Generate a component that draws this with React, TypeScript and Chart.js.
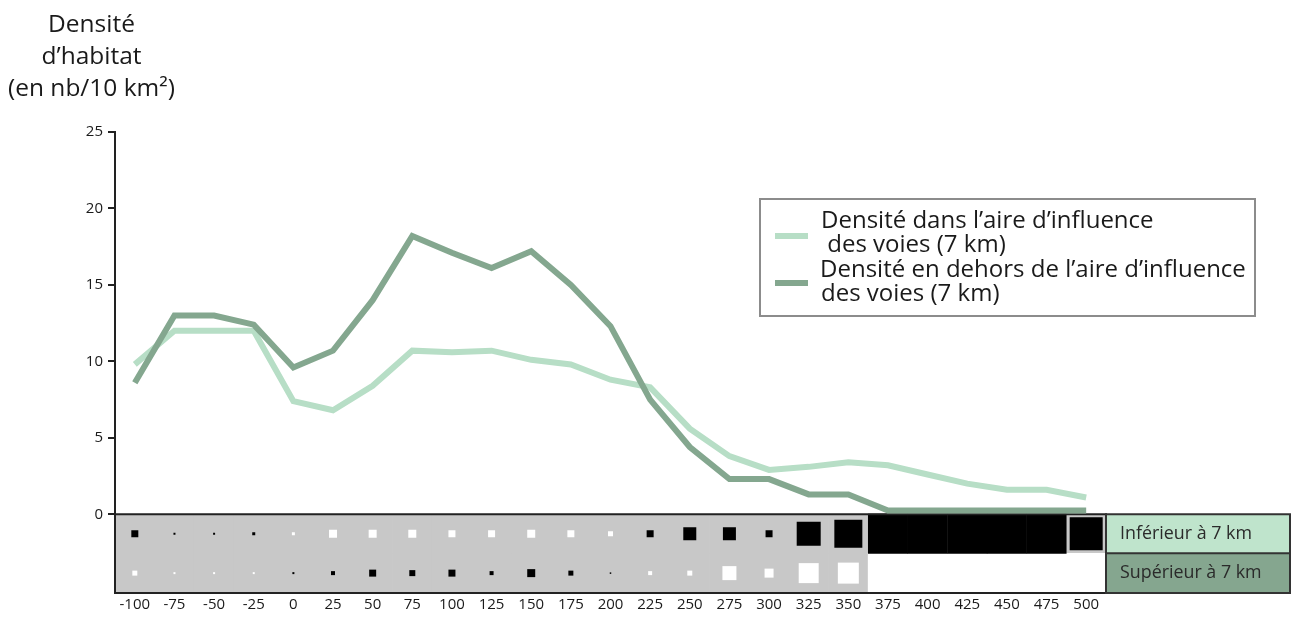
import React, { useEffect, useRef } from "react";
import { Chart, registerables } from "chart.js";

Chart.register(...registerables);

// ---------- data ----------
const distances = ["-100", "-75", "-50", "-25", "0", "25", "50", "75", "100", "125", "150", "175", "200", "225", "250", "275", "300", "325", "350", "375", "400", "425", "450", "475", "500"];

// Densité dans l'aire d'influence des voies (7 km)
const densityInside = [9.8, 12, 12, 12, 7.4, 6.8, 8.4, 10.7, 10.6, 10.7, 10.1, 9.8, 8.8, 8.3, 5.6, 3.8, 2.9, 3.1, 3.4, 3.2, 2.6, 2.0, 1.6, 1.6, 1.1];

// Densité en dehors de l'aire d'influence des voies (7 km)
const densityOutside = [8.6, 13, 13, 12.4, 9.6, 10.7, 14, 18.2, 17.1, 16.1, 17.2, 15.0, 12.3, 7.5, 4.4, 2.3, 2.3, 1.3, 1.3, 0.25, 0.25, 0.25, 0.25, 0.25, 0.25];

// Square markers: magnitude = square side, sign: + black, - white, null = no data
const markerInside = [7, 2, 2, 3, -3, -8, -8, -8, -7, -7, -8, -7, -5, 7, 13, 13, 7, 24, 28, 40, 40, 40, 40, 40, 33];
const markerOutside = [-5, -2, -2, -2, 2, 4, 7, 6, 7, 4, 8, 5, 1.5, -4, -5, -14, -9, -20, -21, null, null, null, null, null, null];

const yTicks = [0, 5, 10, 15, 20, 25];

const titleLines = ["Densité", "d’habitat", "(en nb/10 km²)"];
const legendInsideLines = ["Densité dans l’aire d’influence", " des voies (7 km)"];
const legendOutsideLines = ["Densité en dehors de l’aire d’influence", "des voies (7 km)"];
const rowLabels = ["Inférieur à 7 km", "Supérieur à 7 km"];

// ---------- styling constants ----------
const FONT = "'Open Sans', 'Noto Sans', sans-serif";
const LIGHT = "#b7dec6";
const DARK = "#84a78f";
const ROW_LIGHT = "#bfe4cc";
const ROW_DARK = "#85a68f";
const STRIP_GRAY = "#c8c8c8";
const AXIS = "#222";
const Y_MAX = 25;
const STRIP_MIN = -5.15;
const ROW_SPLIT = -2.55;
const ROW_INF_Y = ROW_SPLIT / 2;
const ROW_SUP_Y = (ROW_SPLIT + STRIP_MIN) / 2;

function fitSize(ctx: CanvasRenderingContext2D, text: string, width: number) {
  ctx.font = `100px ${FONT}`;
  const w = ctx.measureText(text).width;
  return (100 * width) / w;
}

const decorPlugin = {
  id: "decor",
  afterDatasetDraw(chart: any, args: any) {
    // strip border drawn right after the strip datasets (before the lines)
    if (args.index !== 3) return;
    const { ctx, chartArea, scales } = chart;
    const y0 = scales.y.getPixelForValue(0);
    ctx.save();
    ctx.strokeStyle = AXIS;
    ctx.lineWidth = 2;
    ctx.strokeRect(chartArea.left, y0, chartArea.right - chartArea.left, chartArea.bottom - y0);
    ctx.restore();
  },
  afterDraw(chart: any) {
    const { ctx, chartArea, scales, width } = chart;
    const y0 = scales.y.getPixelForValue(0);
    const ySplit = scales.y.getPixelForValue(ROW_SPLIT);
    const yBot = chartArea.bottom;
    ctx.save();

    // right-hand table
    const x0 = chartArea.right;
    const x1 = width - 1;
    ctx.fillStyle = ROW_LIGHT;
    ctx.fillRect(x0, y0, x1 - x0, ySplit - y0);
    ctx.fillStyle = ROW_DARK;
    ctx.fillRect(x0, ySplit, x1 - x0, yBot - ySplit);
    ctx.strokeStyle = "#333";
    ctx.lineWidth = 2;
    ctx.strokeRect(x0, y0, x1 - x0, yBot - y0);
    ctx.beginPath();
    ctx.moveTo(x0, ySplit);
    ctx.lineTo(x1, ySplit);
    ctx.stroke();
    const tSize = fitSize(ctx, rowLabels[0], 132);
    ctx.font = `${tSize}px ${FONT}`;
    ctx.fillStyle = "#2a2a2a";
    ctx.textBaseline = "middle";
    ctx.textAlign = "left";
    ctx.fillText(rowLabels[0], x0 + 14, (y0 + ySplit) / 2);
    ctx.fillText(rowLabels[1], x0 + 14, (ySplit + yBot) / 2);

    // title
    const titleSize = fitSize(ctx, titleLines[2], 167);
    ctx.font = `${titleSize}px ${FONT}`;
    ctx.textAlign = "center";
    ctx.fillStyle = "#1a1a1a";
    titleLines.forEach((t, i) => ctx.fillText(t, 91.5, 25 + i * 32));

    // legend
    const bx = 760, by = 199, bw = 495, bh = 117;
    ctx.strokeStyle = "#8c8c8c";
    ctx.lineWidth = 2;
    ctx.strokeRect(bx, by, bw, bh);
    ctx.fillStyle = LIGHT;
    ctx.fillRect(775, 233, 33, 6);
    ctx.fillStyle = DARK;
    ctx.fillRect(775, 280, 33, 6);
    const lSize = fitSize(ctx, legendOutsideLines[0], 426);
    ctx.font = `${lSize}px ${FONT}`;
    ctx.fillStyle = "#1a1a1a";
    ctx.textAlign = "left";
    ctx.fillText(legendInsideLines[0], 821, 221);
    ctx.fillText(legendInsideLines[1], 821, 245);
    ctx.fillText(legendOutsideLines[0], 820, 270);
    ctx.fillText(legendOutsideLines[1], 821, 294);
    ctx.restore();
  },
};

export default function App() {
  const canvasRef = useRef<HTMLCanvasElement | null>(null);

  useEffect(() => {
    if (!canvasRef.current) return;
    const markerRadius = (arr: (number | null)[]) => (c: any) => {
      const v = arr[c.dataIndex];
      return v == null ? 0 : Math.abs(v) / Math.SQRT2;
    };
    const markerColor = (arr: (number | null)[]) => (c: any) => {
      const v = arr[c.dataIndex];
      return v != null && v > 0 ? "#000" : "#fff";
    };

    const chart = new Chart(canvasRef.current, {
      type: "bar",
      data: {
        labels: distances,
        datasets: [
          {
            type: "bar",
            label: "fond inférieur",
            data: distances.map(() => [ROW_SPLIT, 0]) as any,
            backgroundColor: STRIP_GRAY,
            borderWidth: 0,
            barPercentage: 1,
            categoryPercentage: 1,
            grouped: false,
            order: 10,
          } as any,
          {
            type: "bar",
            label: "fond supérieur",
            data: distances.map(() => [STRIP_MIN, ROW_SPLIT]) as any,
            backgroundColor: (c: any) => (markerOutside[c.dataIndex] == null ? "#fff" : STRIP_GRAY),
            borderWidth: 0,
            barPercentage: 1,
            categoryPercentage: 1,
            grouped: false,
            order: 9,
          } as any,
          {
            type: "line",
            label: "Inférieur à 7 km",
            data: markerInside.map((v) => (v == null ? null : ROW_INF_Y)),
            showLine: false,
            pointStyle: "rect",
            pointRadius: markerRadius(markerInside),
            pointBackgroundColor: markerColor(markerInside),
            pointBorderWidth: 0,
            order: 6,
          } as any,
          {
            type: "line",
            label: "Supérieur à 7 km",
            data: markerOutside.map((v) => (v == null ? null : ROW_SUP_Y)),
            showLine: false,
            pointStyle: "rect",
            pointRadius: markerRadius(markerOutside),
            pointBackgroundColor: markerColor(markerOutside),
            pointBorderWidth: 0,
            order: 5,
          } as any,
          {
            type: "line",
            label: "Densité dans l’aire d’influence des voies (7 km)",
            data: densityInside,
            borderColor: LIGHT,
            borderWidth: 6,
            pointRadius: 0,
            tension: 0,
            fill: false,
            order: 1,
          } as any,
          {
            type: "line",
            label: "Densité en dehors de l’aire d’influence des voies (7 km)",
            data: densityOutside,
            borderColor: DARK,
            borderWidth: 6,
            pointRadius: 0,
            tension: 0,
            fill: false,
            order: 0,
          } as any,
        ],
      },
      options: {
        responsive: false,
        animation: false,
        devicePixelRatio: 1,
        layout: { padding: { top: 132, right: 185, bottom: 0, left: 0 } },
        plugins: {
          legend: { display: false },
          title: { display: false },
          tooltip: { enabled: false },
        },
        scales: {
          x: {
            type: "category",
            offset: true,
            grid: { display: false, drawTicks: false },
            border: { display: false },
            afterFit: (s: any) => {
              s.height = 28;
            },
            ticks: {
              autoSkip: false,
              maxRotation: 0,
              padding: 3,
              color: "#1a1a1a",
              font: { family: FONT, size: 15 },
            },
          },
          y: {
            min: STRIP_MIN,
            max: Y_MAX,
            afterBuildTicks: (s: any) => {
              s.ticks = yTicks.map((v) => ({ value: v }));
            },
            afterFit: (s: any) => {
              s.width = 115;
            },
            grid: { drawOnChartArea: false, drawTicks: true, tickLength: 7, color: AXIS, lineWidth: 2 },
            border: { display: true, color: AXIS, width: 2 },
            ticks: {
              padding: 5,
              color: "#1a1a1a",
              font: { family: FONT, size: 15 },
            },
          },
        },
      } as any,
      plugins: [decorPlugin],
    });
    return () => chart.destroy();
  }, []);

  return (
    <div style={{ position: "fixed", left: 0, top: 0, width: 1291, height: 621, background: "#fff" }}>
      <canvas ref={canvasRef} width={1291} height={621} style={{ display: "block" }} />
    </div>
  );
}
